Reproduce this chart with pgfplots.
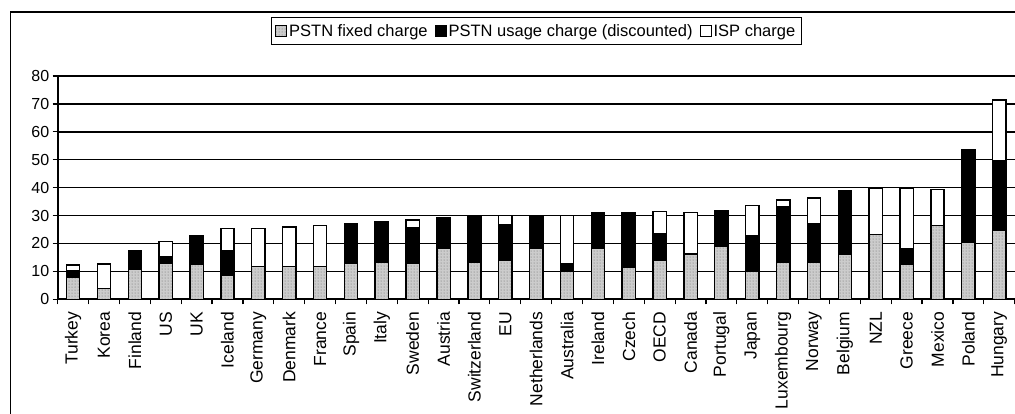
\documentclass[border=0pt]{standalone}
\usepackage{fontspec}
\setmainfont{Liberation Sans}
\usepackage{pgfplots}
\usepackage{pgfplotstable}
\pgfplotsset{compat=1.18}
\usetikzlibrary{patterns}
\pgfplotstableread{
idx fixed usage isp
0 7.8 2.3 2.2
1 3.9 0 8.8
2 10.7 6.7 0
3 12.9 2.4 5.5
4 12.7 10.2 0
5 8.7 8.7 7.9
6 11.7 0 13.6
7 11.7 0 14.2
8 11.7 0 14.7
9 12.9 14.3 0
10 13.4 14.5 0
11 12.9 12.8 2.7
12 18.1 11.2 0
13 13.1 16.9 0
14 13.9 12.8 3.3
15 18.3 11.7 0
16 9.9 3.0 17.1
17 18.3 12.9 0
18 11.5 19.7 0
19 14.1 9.5 7.8
20 16.2 0 15.0
21 19.1 12.7 0
22 10.1 12.7 10.8
23 13.4 19.8 2.4
24 13.4 13.6 9.3
25 16.2 22.7 0
26 23.3 0 16.3
27 12.5 5.8 21.3
28 26.5 0 12.9
29 20.3 33.4 0
30 24.8 24.8 21.8
}\data
\begin{document}
\begin{tikzpicture}[x=1pt,y=1pt]
\useasboundingbox (0,0) rectangle (1015,413);
\draw[line width=1.8pt] (10.5,-10) -- (10.5,401) -- (1030,401);
\begin{axis}[
  at={(57.7pt,113.7pt)}, anchor=south west,
  scale only axis, width=957pt, height=223.3pt,
  ybar stacked, bar width=13.3pt,
  xmin=-0.5, xmax=30.5, ymin=0, ymax=80,
  ytick={0,10,...,80},
  xtick={-0.5,0.5,...,30.5}, xticklabels={},
  extra x ticks={0,1,...,30},
  extra x tick labels={Turkey,Korea,Finland,US,UK,Iceland,Germany,Denmark,France,Spain,Italy,Sweden,Austria,Switzerland,EU,Netherlands,Australia,Ireland,Czech,OECD,Canada,Portugal,Japan,Luxembourg,Norway,Belgium,NZL,Greece,Mexico,Poland,Hungary},
  extra x tick style={major tick length=0pt, tick label style={rotate=90, anchor=east, xshift=-9pt, font=\fontsize{17.5}{18}\selectfont}},
  y tick label style={font=\fontsize{16}{17}\selectfont},
  /pgf/number format/assume math mode=true,
  tick align=outside,
  major tick length=5pt,
  tick style={black, line width=1.2pt},
  axis x line*=bottom, axis y line*=left,
  axis line style={line width=1.8pt, -},
  ymajorgrids, grid style={black, line width=1.4pt},
  legend style={at={(0.5,1.2015)}, anchor=center, legend columns=-1, draw=black, line width=1.2pt,
    font=\fontsize{16.5}{19}\selectfont, inner xsep=4pt, inner ysep=5pt,
    /tikz/every even column/.append style={column sep=5pt}},
  legend image code/.code={\draw[#1, line width=1pt] (0pt,-5pt) rectangle (11pt,6pt);},
]
\addplot[fill=gray!40, draw=black, line width=1.4pt, postaction={pattern=dots, pattern color=gray!80!black}] table[x=idx,y=fixed]{\data};
\addplot[fill=black, draw=black, line width=1.4pt] table[x=idx,y=usage]{\data};
\addplot[fill=white, draw=black, line width=1.4pt] table[x=idx,y=isp]{\data};
\legend{PSTN fixed charge, PSTN usage charge (discounted), ISP charge}
\end{axis}
\end{tikzpicture}
\end{document}
